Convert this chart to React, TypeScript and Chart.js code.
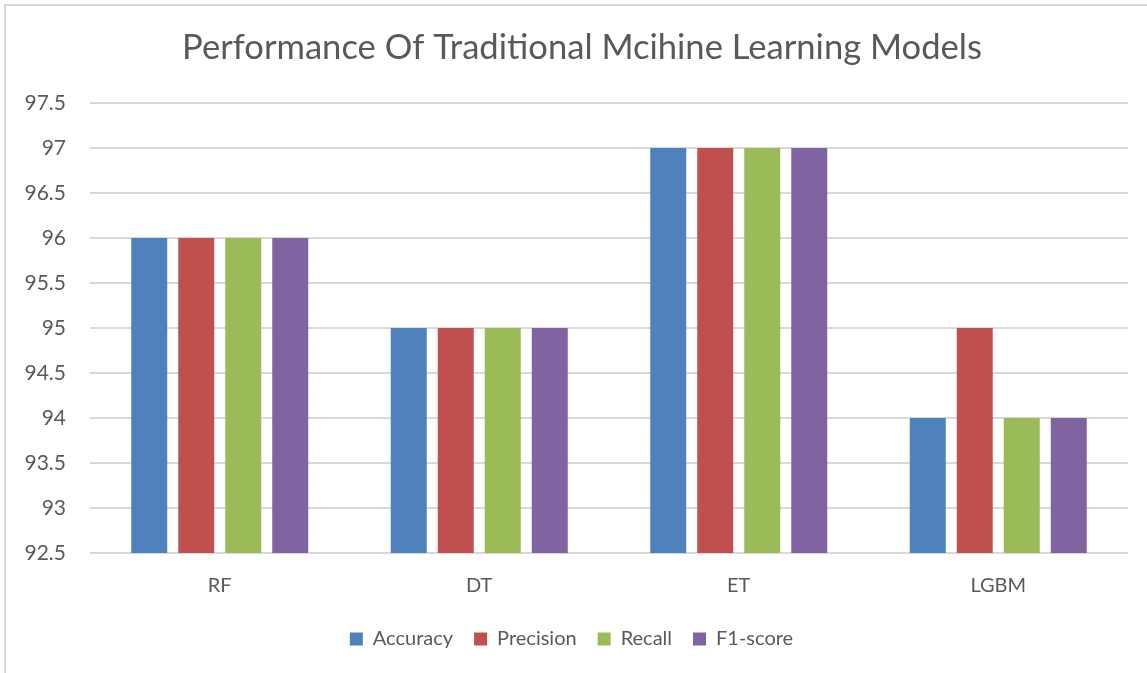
import React, { useEffect, useRef } from "react";
import { Chart, registerables } from "chart.js";

Chart.register(...registerables);

const categories = ["RF", "DT", "ET", "LGBM"];
const accuracy = [96, 95, 97, 94];
const precision = [96, 95, 97, 95];
const recall = [96, 95, 97, 94];
const f1Score = [96, 95, 97, 94];
const seriesNames = ["Accuracy", "Precision", "Recall", "F1-score"];
const seriesColors = ["#4F81BD", "#C0504D", "#9BBB59", "#8064A2"];
const yMin = 92.5;
const yMax = 97.5;
const yStep = 0.5;
const titleText = "Performance Of Traditional Mcihine Learning Models";

const FONT = "Lato, 'Open Sans', sans-serif";
const TEXT = "#595959";

const titlePlugin = {
  id: "excelTitle",
  afterDraw(chart: any) {
    const ctx = chart.ctx;
    ctx.save();
    ctx.fillStyle = TEXT;
    ctx.font = `normal 34.6px ${FONT}`;
    ctx.textAlign = "center";
    ctx.textBaseline = "middle";
    ctx.fillText(titleText, 582, 48);
    ctx.restore();
  },
};

export default function App() {
  const ref = useRef<HTMLCanvasElement | null>(null);
  useEffect(() => {
    if (!ref.current) return;
    const values = [accuracy, precision, recall, f1Score];
    const chart = new Chart(ref.current, {
      type: "bar",
      data: {
        labels: categories,
        datasets: values.map((d, i) => ({
          label: seriesNames[i],
          data: d,
          backgroundColor: seriesColors[i],
          borderWidth: 0,
          categoryPercentage: 0.7245,
          barPercentage: 0.766,
        })),
      },
      plugins: [titlePlugin],
      options: {
        animation: false,
        responsive: false,
        devicePixelRatio: 1,
        layout: { padding: { left: 15, right: 19, top: 103, bottom: 14 } },
        plugins: {
          title: { display: false },
          legend: {
            display: true,
            position: "bottom",
            labels: {
              color: TEXT,
              font: { family: FONT, size: 20 },
              boxWidth: 13,
              boxHeight: 13,
              padding: 21,
            },
          },
          tooltip: { enabled: false },
        },
        scales: {
          x: {
            grid: { display: false, drawTicks: false },
            border: { display: false },
            ticks: {
              color: TEXT,
              font: { family: FONT, size: 20 },
              padding: 21,
            },
            afterFit: (s: any) => {
              s.height = 55;
            },
          },
          y: {
            min: yMin,
            max: yMax,
            grid: { color: "#d9d9d9", lineWidth: 2, drawTicks: false },
            border: { display: false },
            ticks: {
              stepSize: yStep,
              color: TEXT,
              font: { family: FONT, size: 21 },
              padding: 24,
              callback: (v: any) => `${+v}`,
            },
            afterFit: (s: any) => {
              s.width = 75;
            },
          },
        },
      },
    });
    return () => chart.destroy();
  }, []);

  return (
    <div
      style={{
        position: "fixed",
        left: 0,
        top: 0,
        width: 1147,
        height: 673,
        overflow: "hidden",
        background: "#fff",
      }}
    >
      <canvas ref={ref} width={1147} height={673} style={{ display: "block" }} />
      <div
        style={{
          position: "absolute",
          left: 4,
          top: 4,
          width: 2000,
          height: 2000,
          borderLeft: "2px solid #d9d9d9",
          borderTop: "2px solid #d9d9d9",
          pointerEvents: "none",
        }}
      />
    </div>
  );
}
